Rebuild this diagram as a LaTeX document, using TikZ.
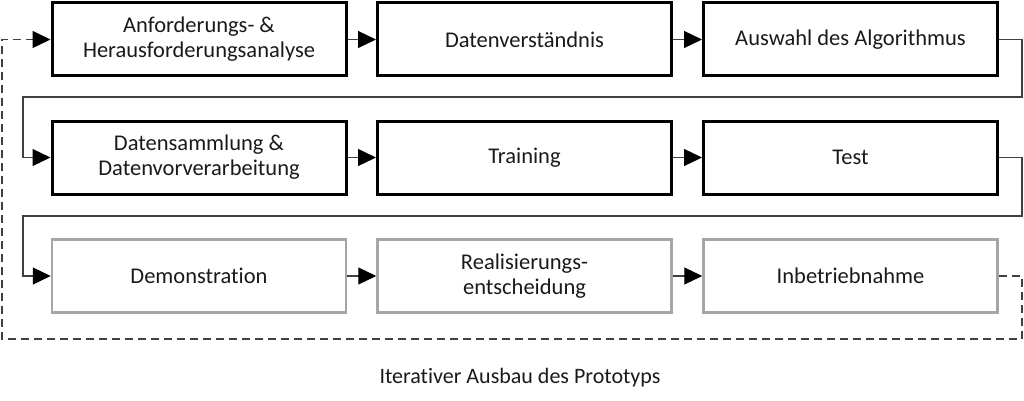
\documentclass[tikz,border=0pt]{standalone}
\usepackage{fontspec}
\setmainfont{Carlito}[Ligatures=CommonOff]
\usetikzlibrary{arrows.meta}
\definecolor{linegray}{HTML}{404040}
\definecolor{boxgray}{HTML}{A6A6A6}
\definecolor{txt}{HTML}{1A1A1A}
\tikzset{
  blk/.style={draw=black, line width=3pt, minimum width=294pt, minimum height=73pt, align=center, font=\fontsize{22.5}{25}\selectfont, text=txt, inner sep=0pt},
  gblk/.style={blk, draw=boxgray, line width=2.5pt},
  conn/.style={draw=linegray, line width=1.2pt, -{Triangle[length=18pt,width=17pt,color=black]}},
  loopback/.style={conn, dash pattern=on 8pt off 5pt, line width=1.4pt},
}
\begin{document}
\begin{tikzpicture}[x=1pt,y=-1pt]
\useasboundingbox (0,0) rectangle (1024,401);
\node[blk] (a1) at (199,39.5) {Anforderungs- \&\\Herausforderungsanalyse};
\node[blk] (a2) at (524.5,39.5) {Datenverständnis};
\node[blk] (a3) at (850.5,39.5) {Auswahl des Algorithmus};
\node[blk] (b1) at (199,157.5) {Datensammlung \&\\Datenvorverarbeitung};
\node[blk] (b2) at (524.5,157.5) {Training};
\node[blk] (b3) at (850.5,157.5) {Test};
\node[gblk] (c1) at (199,276) {Demonstration};
\node[gblk] (c2) at (524.5,276) {Realisierungs-\\entscheidung};
\node[gblk] (c3) at (850.5,276) {Inbetriebnahme};
\node[font=\fontsize{22}{25}\selectfont, text=txt] (cap) at (520,378) {Iterativer Ausbau des Prototyps};
\draw[conn] (a1) -- (a2);
\draw[conn] (a2) -- (a3);
\draw[conn] (b1) -- (b2);
\draw[conn] (b2) -- (b3);
\draw[conn] (c1) -- (c2);
\draw[conn] (c2) -- (c3);
\draw[conn] (a3.east) -- (1022,39.5) -- (1022,97) -- (23,97) -- (23,157.5) -- (b1.west);
\draw[conn] (b3.east) -- (1022,157.5) -- (1022,216) -- (23,216) -- (23,276) -- (c1.west);
\draw[loopback] (c3.east) -- (1022,276) -- (1022,339) -- (2,339) -- (2,39.5) -- (a1.west);
\end{tikzpicture}
\end{document}
